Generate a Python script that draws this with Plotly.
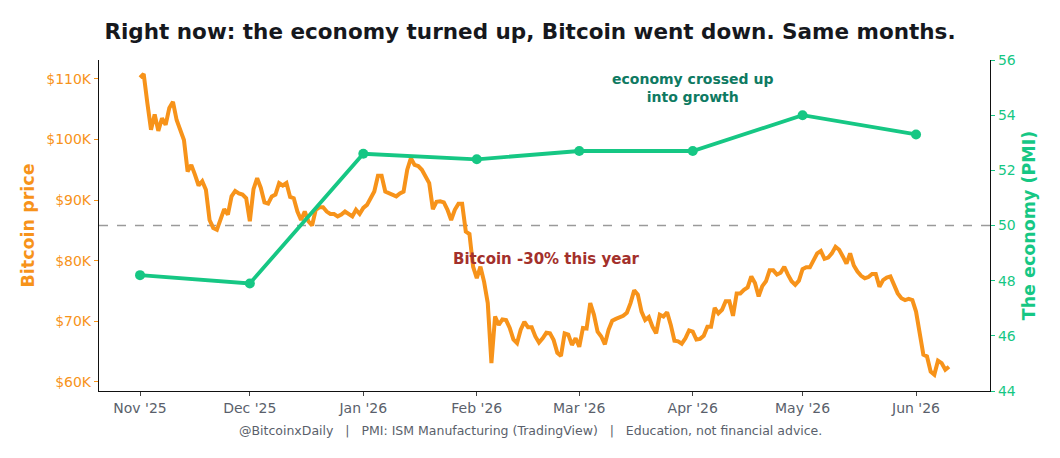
import pandas as pd
import plotly.graph_objects as go

# ---------------- data ----------------
btc_start = "2025-11-01"
btc_price_k = [
    110.2, 110.8, 106.0, 101.6, 104.1, 101.4, 103.5, 102.4, 105.2, 106.2,
    103.2, 101.6, 99.9, 94.7, 95.8, 94.2, 92.4, 93.1, 91.7, 86.7,
    85.4, 85.1, 87.0, 88.5, 87.6, 90.6, 91.5, 91.1, 90.9, 90.3,
    86.5, 91.8, 93.6, 92.0, 89.6, 89.4, 90.6, 90.9, 92.8, 92.4,
    92.8, 90.5, 90.3, 88.1, 86.7, 88.1, 86.5, 85.8, 88.4, 88.8,
    88.8, 88.1, 87.7, 87.7, 87.3, 87.6, 88.1, 87.6, 87.3, 88.4,
    87.7, 88.7, 89.2, 90.3, 91.4, 94.0, 94.0, 91.4, 91.1, 90.8,
    90.6, 91.1, 91.4, 95.0, 96.9, 95.8, 95.6, 95.0, 93.9, 92.8,
    88.5, 89.7, 89.8, 89.6, 88.4, 86.7, 88.4, 89.4, 89.4, 84.8,
    84.4, 79.0, 77.1, 79.0, 76.5, 73.0, 63.1, 70.8, 69.4, 70.3,
    70.2, 68.9, 67.0, 66.4, 68.6, 69.9, 69.0, 69.0, 67.5, 66.5,
    67.2, 68.1, 68.0, 66.9, 64.8, 64.3, 68.0, 67.8, 66.1, 67.2,
    65.8, 68.9, 68.8, 73.0, 71.1, 68.3, 67.5, 66.2, 68.6, 70.1,
    70.4, 70.7, 70.9, 71.4, 73.0, 75.1, 74.4, 71.6, 70.2, 70.7,
    69.1, 68.0, 71.1, 70.8, 71.5, 69.4, 66.8, 66.7, 66.3, 67.2,
    68.5, 68.3, 67.0, 67.1, 67.6, 69.1, 69.1, 72.2, 71.3, 71.9,
    73.3, 73.3, 70.9, 74.6, 74.6, 75.2, 75.6, 77.4, 76.3, 74.1,
    75.8, 76.6, 78.4, 78.4, 77.7, 78.0, 79.0, 77.7, 76.6, 76.0,
    76.7, 78.6, 78.9, 78.9, 80.1, 81.2, 81.6, 80.3, 80.5, 81.2,
    82.3, 81.8, 80.7, 79.5, 81.2, 79.2, 78.2, 77.5, 77.1, 77.3,
    77.8, 77.8, 75.7, 76.8, 77.2, 77.4, 76.0, 74.6, 73.8, 73.5,
    73.7, 73.5, 71.6, 67.8, 64.5, 64.2, 61.7, 61.2, 63.5, 63.1,
    62.0, 62.5,
]

pmi_months = ["2025-11-01", "2025-12-01", "2026-01-01", "2026-02-01",
              "2026-03-01", "2026-04-01", "2026-05-01", "2026-06-01"]
pmi_values = [48.2, 47.9, 52.6, 52.4, 52.7, 52.7, 54.0, 53.3]

month_ticks = pmi_months
month_labels = ["Nov '25", "Dec '25", "Jan '26", "Feb '26",
                "Mar '26", "Apr '26", "May '26", "Jun '26"]

price_ticks = [60000, 70000, 80000, 90000, 100000, 110000]
price_labels = ["$60K", "$70K", "$80K", "$90K", "$100K", "$110K"]
pmi_ticks = [44, 46, 48, 50, 52, 54, 56]

title_text = "Right now: the economy turned up, Bitcoin went down. Same months."
footer_text = ("@BitcoinxDaily   |   PMI: ISM Manufacturing (TradingView)   |   "
               "Education, not financial advice.")

# ---------------- styling ----------------
ORANGE = "#F7931A"
GREEN = "#16C784"
TEAL = "#0E7A62"
BROWN = "#A3302B"
GREY_TXT = "#5A5F6B"
FONT = "DejaVu Sans"

btc_dates = pd.date_range(btc_start, periods=len(btc_price_k), freq="D")
btc_price = [v * 1000 for v in btc_price_k]

fig = go.Figure()
fig.add_trace(go.Scatter(
    x=btc_dates, y=btc_price, mode="lines",
    line=dict(color=ORANGE, width=4), name="Bitcoin", yaxis="y",
))
fig.add_trace(go.Scatter(
    x=pd.to_datetime(pmi_months), y=pmi_values, mode="lines+markers",
    line=dict(color=GREEN, width=3.8), marker=dict(color=GREEN, size=10),
    name="PMI", yaxis="y2",
))

fig.add_shape(type="line", xref="paper", x0=0, x1=1, yref="y2", y0=50, y1=50,
              line=dict(color="#9A9A9A", width=1.3, dash="dash"), layer="below")

fig.add_annotation(x="2026-04-01", y=55.0, xref="x", yref="y2",
                   text="economy crossed up<br>into growth", showarrow=False,
                   font=dict(family=FONT, size=14, color=TEAL, weight="bold"),
                   align="center")
fig.add_annotation(x="2026-02-20", y=80300, xref="x", yref="y",
                   text="Bitcoin -30% this year", showarrow=False,
                   font=dict(family=FONT, size=15, color=BROWN, weight="bold"))
fig.add_annotation(x=0.484, y=-0.118, xref="paper", yref="paper",
                   text=footer_text, showarrow=False,
                   font=dict(family=FONT, size=12.5, color=GREY_TXT),
                   xanchor="center", yanchor="middle")

fig.update_layout(
    width=1060, height=458,
    margin=dict(l=99, r=70, t=60, b=67),
    paper_bgcolor="white", plot_bgcolor="white",
    showlegend=False,
    title=dict(text=title_text, x=0.5, xanchor="center", y=1 - 31 / 458,
               yanchor="middle",
               font=dict(family=FONT, size=21.5, color="#16181D", weight="bold")),
    xaxis=dict(
        type="date", range=["2025-10-20 19:00", "2026-06-21 05:00"],
        tickvals=month_ticks, ticktext=month_labels,
        tickfont=dict(family=FONT, size=14, color=GREY_TXT),
        ticks="outside", ticklen=4, tickcolor="#444",
        showline=True, linecolor="#111", linewidth=1.3,
        showgrid=False, zeroline=False,
    ),
    yaxis=dict(
        range=[58500, 113100], tickvals=price_ticks, ticktext=price_labels,
        tickfont=dict(family=FONT, size=14, color=ORANGE),
        ticks="outside", ticklen=4, tickcolor=ORANGE,
        showline=True, linecolor="#111", linewidth=1.3,
        showgrid=False, zeroline=False,
        title=dict(text="<b>Bitcoin price</b>", standoff=7,
                   font=dict(family=FONT, size=17.5, color=ORANGE)),
    ),
    yaxis2=dict(
        range=[44, 56], tickvals=pmi_ticks, overlaying="y", side="right",
        tickfont=dict(family=FONT, size=14, color=GREEN),
        ticks="outside", ticklen=4, tickcolor=GREEN,
        showline=True, linecolor="#111", linewidth=1.3,
        showgrid=False, zeroline=False,
        title=dict(text="<b>The economy (PMI)</b>", standoff=7,
                   font=dict(family=FONT, size=17.5, color=GREEN)),
    ),
)

fig.write_html("out.html")
